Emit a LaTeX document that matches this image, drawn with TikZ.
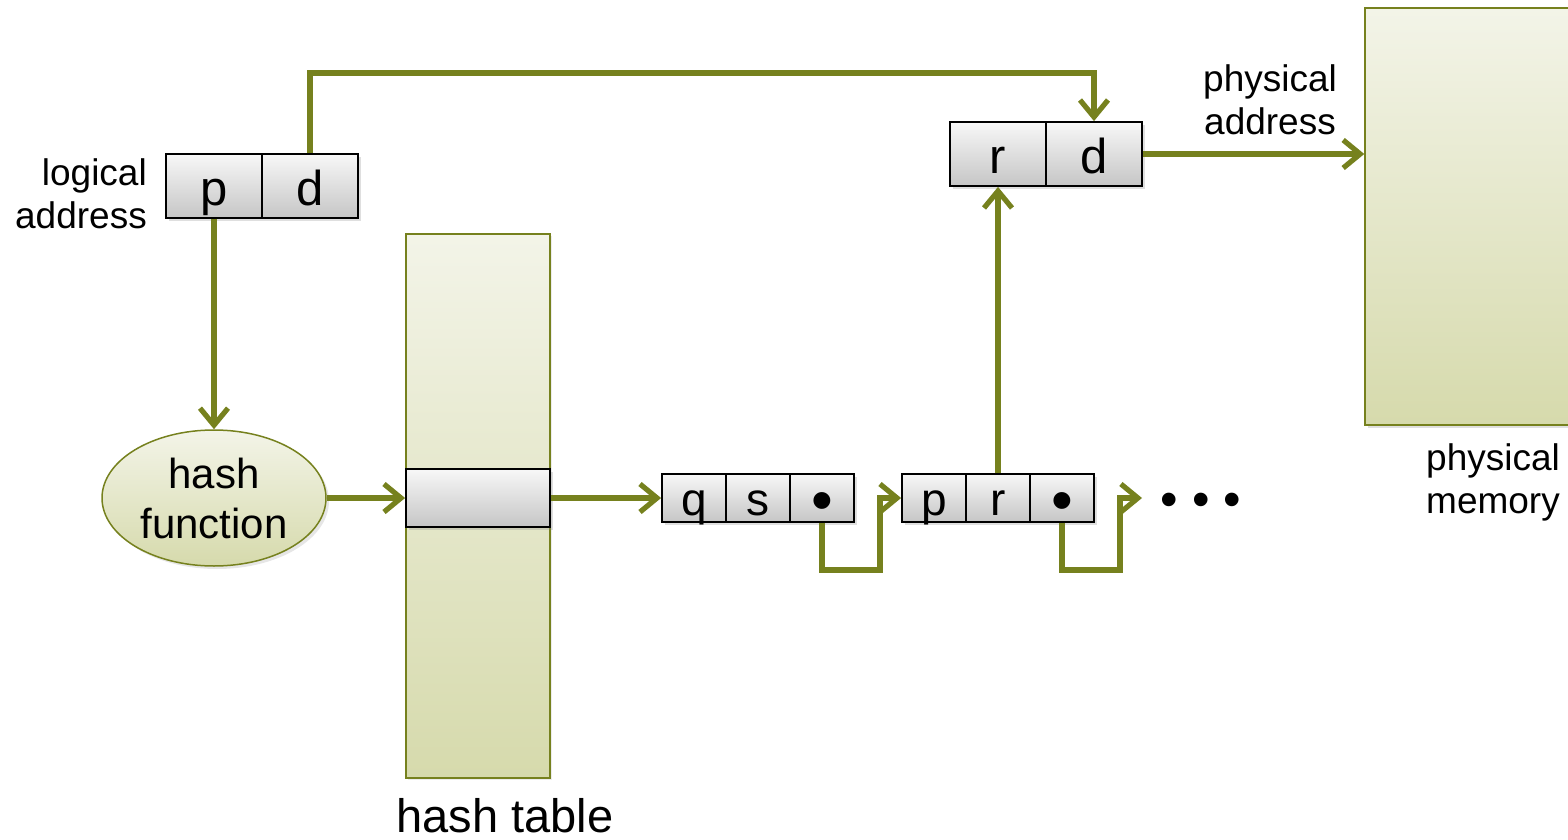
\documentclass[tikz,border=0pt]{standalone}
\usepackage{fontspec}
\setmainfont{Liberation Sans}
\usetikzlibrary{arrows.meta,shapes.geometric,shadows,positioning}
\definecolor{olive}{RGB}{118,129,30}
\definecolor{paletop}{RGB}{243,244,232}
\definecolor{palebot}{RGB}{214,218,172}
\tikzset{
  cellbox/.style={draw=black,line width=1.8pt,top color=gray!6,bottom color=gray!45,
    inner sep=0pt,minimum width=96pt,minimum height=64pt,text height=38pt,text depth=0pt,
    font=\fontsize{49}{55}\selectfont,
    drop shadow={shadow xshift=3pt,shadow yshift=-3pt,opacity=0.25}},
  smallcell/.style={cellbox,minimum width=64pt,minimum height=48pt,text height=34pt,
    font=\fontsize{46}{52}\selectfont},
  bulletcell/.style={smallcell,text height=46pt,font=\fontsize{62}{66}\selectfont},
  palebox/.style={draw=olive,line width=1.5pt,top color=paletop,bottom color=palebot,inner sep=0pt},
  lbl/.style={font=\fontsize{37}{43}\selectfont,align=center,inner sep=0pt},
  arr/.style={draw=olive,line width=5.2pt,-{Straight Barb[length=17pt,width=28pt]}},
}
\begin{document}
\begin{tikzpicture}[x=1pt,y=-1pt]
\clip (0,0) rectangle (1568,840);
% hash table column
\node[palebox,minimum width=144pt,minimum height=544pt,
  drop shadow={shadow xshift=2pt,shadow yshift=-2pt,opacity=0.15}] (ht) at (478,506) {};
\node[cellbox,minimum width=144pt,minimum height=58pt] (htrow) at (478,498) {};
\node[font=\fontsize{47}{52}\selectfont] (htlbl) at (505,816) {hash table};
% physical memory
\node[palebox,minimum width=240pt,minimum height=417pt,
  drop shadow={shadow xshift=3pt,shadow yshift=-3pt,opacity=0.25}] (mem) at (1485,216.5) {};
\node[lbl] (memlbl) at (1493,482) {physical\\memory};
% logical address
\node[cellbox] (pp) at (214,186) {p};
\node[cellbox] (pd) at (310,186) {d};
\node[lbl,align=right,anchor=east] (lalbl) at (147,194) {logical\\address};
% physical address
\node[cellbox] (rr) at (998,154) {r};
\node[cellbox] (rd) at (1094,154) {d};
\node[lbl] (palbl) at (1270,100) {physical\\address};
% hash function
\node[ellipse,palebox,minimum width=224pt,minimum height=136pt,
  font=\fontsize{42}{50}\selectfont,align=center,
  drop shadow={shadow xshift=3pt,shadow yshift=-3pt,opacity=0.2}] (hf) at (214,498) {hash\\function};
% chain entries
\node[smallcell] (q) at (694,498) {q};
\node[smallcell] (s) at (758,498) {s};
\node[bulletcell] (qb) at (822,498) {\textbullet};
\node[smallcell] (p2) at (934,498) {p};
\node[smallcell] (r2) at (998,498) {r};
\node[bulletcell] (b2) at (1062,498) {\textbullet};
\node[font=\fontsize{50}{54}\selectfont,inner sep=0pt] (dots) at (1201,505) {\textbullet\ \textbullet\ \textbullet};
% connectors
\coordinate (k1) at (880,570);
\coordinate (k2) at (1120,570);
\coordinate (dend) at (1142,498);
\draw[arr] (pp.south) -- (hf.north);
\draw[arr] (pd.north) -- ++(0,-80) -| (rd.north);
\draw[arr] (hf.east) -- (htrow.west);
\draw[arr] (htrow.east) -- (q.west);
\draw[arr] (qb.south) |- (k1) |- (p2.west);
\draw[arr] (r2.north) -- (rr.south);
\draw[arr] (rd.east) -- (mem.west |- rd.east);
\draw[arr] (b2.south) |- (k2) |- (dend);
\end{tikzpicture}
\end{document}
